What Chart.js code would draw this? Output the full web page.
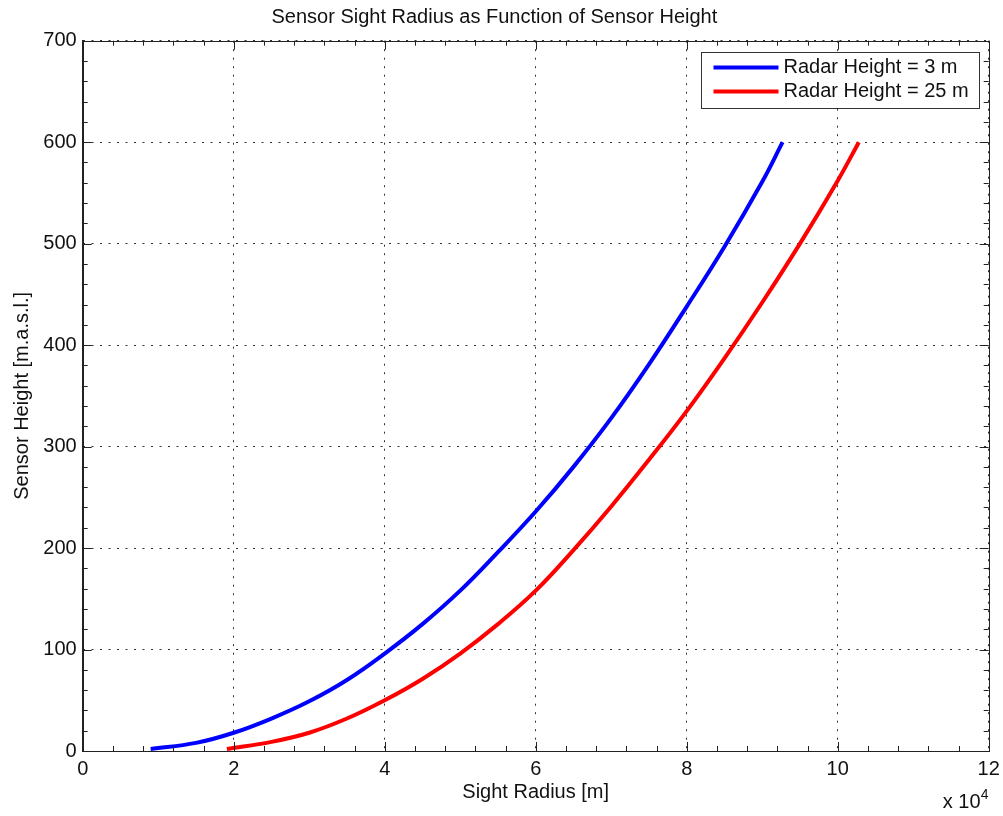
<!DOCTYPE html>
<html>
<head>
<meta charset="utf-8">
<script src="https://cdn.jsdelivr.net/npm/chart.js@4.4.1/dist/chart.umd.min.js"></script>
<style>
  body { margin: 0; background: #fff; }
  #wrap { width: 1003px; height: 816px; }
</style>
</head>
<body>
<div id="wrap"><canvas id="sight" width="1003" height="816"></canvas></div>
<script>
// values (x in metres, y in m.a.s.l.)
const blueX = [9000, 15000, 20000, 25000, 30000, 35000, 40000, 45000, 50000, 55000, 60000, 65000, 70000, 75000, 80000, 85000, 90000, 92700];
const blueY = [2, 8, 18, 32, 49, 70, 96, 125, 158, 196, 236, 280, 328, 381, 438, 497, 561, 600];

const redX = [19100, 25000, 30000, 35000, 40000, 45000, 50000, 55000, 60000, 65000, 70000, 75000, 80000, 85000, 90000, 95000, 100000, 102800];
const redY = [2, 9, 18, 32, 50, 71, 96, 125, 158, 198, 241, 287, 335, 387, 442, 500, 562, 600];

const seriesLabels = ['Radar Height = 3 m', 'Radar Height = 25 m'];

// axis ticks
const xTicks = [0, 20000, 40000, 60000, 80000, 100000, 120000];
const yTicks = [0, 100, 200, 300, 400, 500, 600, 700];
const xMinorStep = 4000;
const yMinorStep = 20;

const FONT = "'Liberation Sans', Arial, Helvetica, sans-serif";
Chart.defaults.font.family = FONT;
Chart.defaults.color = '#111';

function toPoints(xs, ys) {
    return xs.map((x, i) => ({ x: x, y: ys[i] }));
}

// box around the axes + inward major/minor ticks, matlab style
const frameTicks = {
    id: 'frameTicks',
    afterDraw(chart) {
        const ctx = chart.ctx;
        const a = chart.chartArea;
        const xs = chart.scales.x, ys = chart.scales.y;
        ctx.save();
        ctx.strokeStyle = '#222';
        ctx.lineWidth = 1;
        ctx.beginPath();

        const xMin = xTicks[0], xMax = xTicks[xTicks.length - 1];
        for (let v = xMin; v <= xMax; v += xMinorStep) {
            const px = Math.round(xs.getPixelForValue(v)) + 0.5;
            const len = xTicks.includes(v) ? 9 : 5;
            ctx.moveTo(px, a.bottom); ctx.lineTo(px, a.bottom - len);
            ctx.moveTo(px, a.top); ctx.lineTo(px, a.top + len);
        }
        const yMin = yTicks[0], yMax = yTicks[yTicks.length - 1];
        for (let v = yMin; v <= yMax; v += yMinorStep) {
            const py = Math.round(ys.getPixelForValue(v)) + 0.5;
            const len = yTicks.includes(v) ? 9 : 5;
            ctx.moveTo(a.left, py); ctx.lineTo(a.left + len, py);
            ctx.moveTo(a.right, py); ctx.lineTo(a.right - len, py);
        }
        ctx.stroke();
        ctx.strokeRect(Math.round(a.left) + 0.5, Math.round(a.top) + 0.5,
            Math.round(a.right - a.left), Math.round(a.bottom - a.top));

        // exponent under the x axis
        ctx.fillStyle = '#111';
        ctx.textBaseline = 'alphabetic';
        ctx.textAlign = 'left';
        ctx.font = '20px ' + FONT;
        ctx.fillText('x 10', a.right - 46, 808);
        ctx.font = '14px ' + FONT;
        ctx.fillText('4', a.right - 8, 799);
        ctx.restore();
    }
};

// legend in a box inside the top right corner
const boxLegend = {
    id: 'boxLegend',
    afterDraw(chart) {
        const ctx = chart.ctx;
        const a = chart.chartArea;
        const w = 278, h = 56;
        const x0 = Math.round(a.right - 10 - w) + 0.5;
        const y0 = Math.round(a.top + 11) + 0.5;
        ctx.save();
        ctx.fillStyle = '#fff';
        ctx.fillRect(x0, y0, w, h);
        ctx.strokeStyle = '#333';
        ctx.lineWidth = 1;
        ctx.strokeRect(x0, y0, w, h);
        ctx.font = '20px ' + FONT;
        ctx.textBaseline = 'middle';
        ctx.textAlign = 'left';
        chart.data.datasets.forEach((ds, i) => {
            const y = y0 + 15 + i * 24;
            ctx.strokeStyle = ds.borderColor;
            ctx.lineWidth = 4;
            ctx.beginPath();
            ctx.moveTo(x0 + 12, y);
            ctx.lineTo(x0 + 77, y);
            ctx.stroke();
            ctx.fillStyle = '#111';
            ctx.fillText(ds.label, x0 + 82, y);
        });
        ctx.restore();
    }
};

var ctx = document.getElementById('sight').getContext('2d');

var chart = new Chart(ctx, {
    type: 'line',
    data: {
        datasets: [{
            label: seriesLabels[0],
            data: toPoints(blueX, blueY),
            borderColor: '#0000ff',
            backgroundColor: '#0000ff',
            borderWidth: 4,
            pointRadius: 0,
            tension: 0.4,
            fill: false
        }, {
            label: seriesLabels[1],
            data: toPoints(redX, redY),
            borderColor: '#ff0000',
            backgroundColor: '#ff0000',
            borderWidth: 4,
            pointRadius: 0,
            tension: 0.4,
            fill: false
        }]
    },
    options: {
        responsive: false,
        animation: false,
        devicePixelRatio: 1,
        layout: { padding: { left: 0, top: 0, right: 14.3, bottom: 0 } },
        plugins: {
            legend: { display: false },
            tooltip: { enabled: false },
            title: {
                display: true,
                text: 'Sensor Sight Radius as Function of Sensor Height',
                color: '#111',
                font: { size: 20, weight: 'normal', lineHeight: 1.2 },
                padding: { top: 5.5, bottom: 11.2 }
            }
        },
        scales: {
            x: {
                type: 'linear',
                min: xTicks[0],
                max: xTicks[xTicks.length - 1],
                afterBuildTicks: function(scale) {
                    scale.ticks = xTicks.map(v => ({ value: v }));
                },
                afterFit: function(scale) {
                    scale.height = 65;
                    scale.paddingLeft = 0;
                    scale.paddingRight = 0;
                },
                ticks: {
                    padding: 6,
                    color: '#111',
                    font: { size: 20 },
                    maxRotation: 0,
                    callback: v => String(v / 10000)
                },
                grid: { color: '#333', lineWidth: 1, drawTicks: false },
                border: { display: true, color: '#222', dash: [2, 6.5] },
                title: {
                    display: true,
                    text: 'Sight Radius [m]',
                    color: '#111',
                    font: { size: 20 },
                    padding: { top: 0, bottom: 11.5 }
                }
            },
            y: {
                type: 'linear',
                min: yTicks[0],
                max: yTicks[yTicks.length - 1],
                afterBuildTicks: function(scale) {
                    scale.ticks = yTicks.map(v => ({ value: v }));
                },
                afterFit: function(scale) { scale.width = 82.7; },
                ticks: {
                    padding: 6,
                    color: '#111',
                    font: { size: 20 }
                },
                grid: { color: '#333', lineWidth: 1, drawTicks: false },
                border: { display: true, color: '#222', dash: [2, 6.5] },
                title: {
                    display: true,
                    text: 'Sensor Height [m.a.s.l.]',
                    color: '#111',
                    font: { size: 20 },
                    padding: { top: 10, bottom: 0 }
                }
            }
        }
    },
    plugins: [frameTicks, boxLegend]
});
</script>
</body>
</html>
